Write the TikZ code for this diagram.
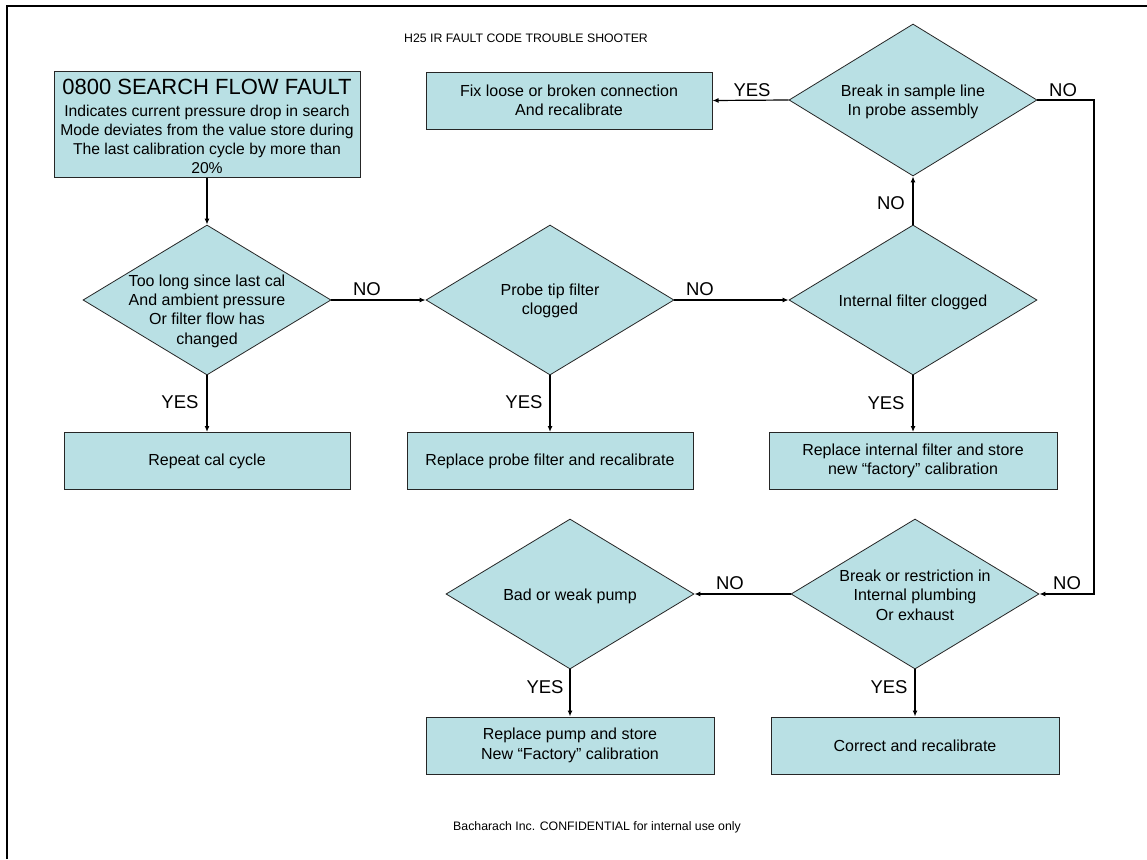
\documentclass[tikz,border=0pt]{standalone}
\usepackage{fontspec}
\setmainfont{Liberation Sans}
\usetikzlibrary{shapes.geometric,arrows.meta}
\definecolor{boxfill}{RGB}{185,224,228}
\begin{document}
\begin{tikzpicture}[x=1pt,y=-1pt,
  proc/.style={draw=black!85, fill=boxfill, line width=1pt, rectangle, minimum width=286pt, minimum height=57pt, inner sep=0pt, align=center, font=\fontsize{16}{19.5}\selectfont},
  dec/.style={draw=black!85, fill=boxfill, line width=0.8pt, diamond, minimum width=248pt, minimum height=150pt, inner sep=0pt},
  dtext/.style={align=center, font=\fontsize{16}{19.3}\selectfont, inner sep=0pt},
  conn/.style={line width=1.2pt, -{Latex[length=6pt,width=5pt]}},
  lbl/.style={font=\fontsize{18.5}{20}\selectfont, inner sep=0pt},
  small/.style={font=\fontsize{12.3}{14}\selectfont, inner sep=0pt}]
\useasboundingbox (0,0) rectangle (1147,859);
\fill[white] (0,0) rectangle (1147,859);
\draw[line width=2pt] (7,859) -- (7,6) -- (1147,6);

\node[small] (title) at (526,38) {H25 IR FAULT CODE TROUBLE SHOOTER};
\node[small] (footer) at (597,827) {Bacharach Inc. CONFIDENTIAL for internal use only};

\node[draw=black!85, fill=boxfill, line width=1pt, rectangle, minimum width=306pt, minimum height=106pt, inner sep=0pt,
  label={[align=center, inner sep=0pt, font=\fontsize{15.7}{19}\selectfont, yshift=-2pt]center:{\fontsize{22}{24}\selectfont 0800 SEARCH FLOW FAULT}\\[3pt]
   Indicates current pressure drop in search\\
   Mode deviates from the value store during\\
   The last calibration cycle by more than\\
   20\%}] (start) at (207,124) {};

\node[dec, label={[dtext, yshift=-11pt]center:Too long since last cal\\And ambient pressure\\Or filter flow has\\changed}] (d1) at (207,300) {};
\node[dec, label={[dtext, yshift=-1pt]center:Probe tip filter\\clogged}] (d2) at (550,300) {};
\node[dec, label={[dtext, yshift=-2pt]center:Internal filter clogged}] (d3) at (913,300) {};
\node[dec, minimum height=152pt, label={[dtext, yshift=-2pt]center:Break in sample line\\In probe assembly}] (d4) at (913,100) {};
\node[dec, label={[dtext, yshift=-1pt]center:Break or restriction in\\Internal plumbing\\Or exhaust}] (d5) at (915,594) {};
\node[dec, label={[dtext, yshift=-2pt]center:Bad or weak pump}] (d6) at (570,594) {};

\node[proc] (fix) at (569,100.5) {Fix loose or broken connection\\And recalibrate};
\node[proc] (repeat) at (207,461) {Repeat cal cycle};
\node[proc] (rprobe) at (550,461) {Replace probe filter and recalibrate};
\node[proc, minimum width=288pt] (rint) at (913,461) {Replace internal filter and store\\new \textquotedblleft factory\textquotedblright\ calibration};
\node[proc, minimum width=288pt] (rpump) at (570,745.5) {Replace pump and store\\New \textquotedblleft Factory\textquotedblright\ calibration};
\node[proc, minimum width=288pt] (correct) at (915,745.5) {Correct and recalibrate};

\coordinate (rt) at (1094,0);

\draw[conn] (start.south) -- (d1.north);
\draw[conn] (d1.east) -- (d2.west);
\draw[conn] (d2.east) -- (d3.west);
\draw[conn] (d3.north) -- (d4.south);
\draw[conn] (d4.west) -- (fix.east);
\draw[conn] (d4.east) -- (d4.east -| rt) -- (d5.east -| rt) -- (d5.east);
\draw[conn] (d5.west) -- (d6.east);
\draw[conn] (d1.south) -- (repeat.north);
\draw[conn] (d2.south) -- (rprobe.north);
\draw[conn] (d3.south) -- (rint.north);
\draw[conn] (d6.south) -- (rpump.north);
\draw[conn] (d5.south) -- (correct.north);

\node[lbl] (l1) at (367,289) {NO};
\node[lbl] (l2) at (180,402) {YES};
\node[lbl] (l3) at (700,289) {NO};
\node[lbl] (l4) at (524,402) {YES};
\node[lbl] (l5) at (886,403) {YES};
\node[lbl] (l6) at (891,203) {NO};
\node[lbl] (l7) at (752,90) {YES};
\node[lbl] (l8) at (1063,90) {NO};
\node[lbl] (l9) at (1067,583) {NO};
\node[lbl] (l10) at (730,583) {NO};
\node[lbl] (l11) at (545,687) {YES};
\node[lbl] (l12) at (889,687) {YES};
\end{tikzpicture}
\end{document}
